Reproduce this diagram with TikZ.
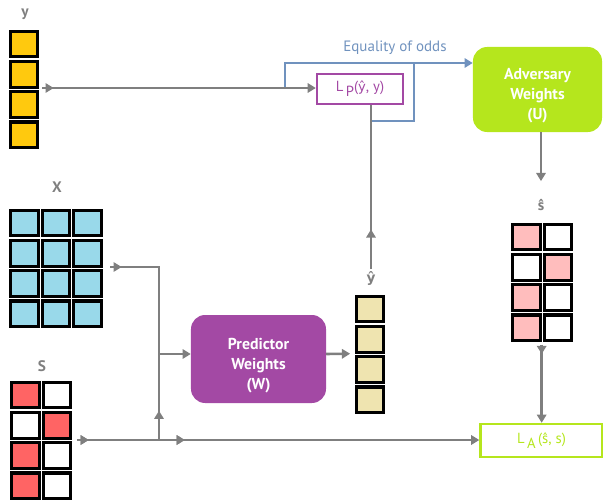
\documentclass[tikz,border=0pt]{standalone}
\usepackage{fontspec}
\setmainfont{PT Sans}
\newfontfamily\hatfont{DejaVu Sans}
\usetikzlibrary{arrows.meta,positioning,calc,decorations.markings}
\definecolor{ambre}{HTML}{FFC90E}
\definecolor{ciel}{HTML}{99D9EA}
\definecolor{corail}{HTML}{FF6464}
\definecolor{sable}{HTML}{EFE4B0}
\definecolor{rose}{HTML}{FFBDBD}
\definecolor{prune}{HTML}{A349A4}
\definecolor{citron}{HTML}{B5E61D}
\definecolor{acier}{HTML}{7092BE}
\definecolor{trait}{HTML}{7F7F7F}
\newcommand\yhat{{\hatfont\fontsize{0.9em}{1em}\selectfont ŷ}}

\tikzset{
  cell/.style={draw=black,line width=2.6pt,minimum width=23.3pt,minimum height=22pt,inner sep=0pt},
  wire/.style={trait,line width=2.2pt},
  conn/.style={wire,-{Triangle[length=7pt,width=8pt]}},
  tipat/.style={postaction={decorate},
    decoration={markings,mark=at position #1 with {\arrow{Triangle[length=7pt,width=8pt]}}}},
  lbl/.style={text=trait,font=\bfseries\fontsize{13}{13}\selectfont},
  weights/.style={rounded corners=12pt,inner sep=0pt},
  wtext/.style={text=white,align=center,inner sep=0pt,yshift=-5.5pt,
    font=\bfseries\fontsize{13.5}{17}\selectfont},
  lossbox/.style={draw=#1,line width=2pt,text=#1,inner sep=0pt,
    font=\fontsize{12.5}{12.5}\selectfont},
}

\begin{document}
\begin{tikzpicture}[x=0.03cm,y=-0.03cm]
  \useasboundingbox (0,0) rectangle (603,500);

  % target y
  \node[lbl] (ylab) at (25,14) {y};
  \foreach \i in {1,...,4}
    \node[cell,fill=ambre] (y\i) at (24,{44+30.3*(\i-1)}) {};

  % features X
  \node[lbl] (xlab) at (57,187) {X};
  \foreach \r in {1,...,4}
    \foreach \c in {1,...,3}
      \node[cell,fill=ciel] (x\r\c) at ({24.5+31.5*(\c-1)},{223+30.3*(\r-1)}) {};

  % sensitive S
  \node[lbl] (slab) at (42,366) {S};
  \foreach \r/\ca/\cb in {1/corail/white,2/white/corail,3/corail/white,4/corail/white}{
    \node[cell,fill=\ca] (s\r1) at (25.5,{395+30.3*(\r-1)}) {};
    \node[cell,fill=\cb] (s\r2) at (57,{395+30.3*(\r-1)}) {};
  }

  % prediction yhat
  \node[lbl] (yhlab) at (371,278) {\yhat};
  \foreach \i in {1,...,4}
    \node[cell,fill=sable] (yh\i) at (370,{309+30.3*(\i-1)}) {};

  % adversary output shat
  \node[lbl] (shlab) at (541,205) {ŝ};
  \foreach \r/\ca/\cb in {1/rose/white,2/white/rose,3/rose/white,4/rose/white}{
    \node[cell,fill=\ca] (sh\r1) at (526.5,{237+30.3*(\r-1)}) {};
    \node[cell,fill=\cb] (sh\r2) at (558,{237+30.3*(\r-1)}) {};
  }

  % weights and losses
  \node[weights,fill=prune,minimum width=4.05cm,minimum height=2.64cm,
    label={[wtext]center:Predictor\\Weights\\(W)}] (pred) at (258.5,359) {};
  \node[weights,fill=citron,minimum width=3.87cm,minimum height=2.55cm,
    label={[wtext]center:Adversary\\Weights\\(U)}] (adv) at (537.5,89.5) {};
  \node[lossbox=prune,minimum width=2.58cm,minimum height=0.9cm] (lp) at (360,89)
    {L\,\raisebox{-4pt}{P}(\yhat, y)};
  \node[lossbox=citron,minimum width=3.66cm,minimum height=0.99cm] (la) at (541.5,440.5)
    {L\,\raisebox{-4pt}{A}\,(ŝ, s)};

  \coordinate (yout) at (42,88);
  \coordinate (xout) at (110,267);
  \coordinate (sout) at (77,440);
  \coordinate (jx) at (159,267);
  \coordinate (jp) at (159,354);
  \coordinate (js) at (159,440);
  \coordinate (eqa) at (285,88);
  \coordinate (eqb) at (414,121);
  \coordinate (eqc) at (414,63);

  % equality of odds
  \draw[acier,line width=2pt,-{Triangle[length=7pt,width=8pt]}] (eqa) |- (adv.west |- eqc);
  \draw[acier,line width=2pt] (yhlab.north |- eqb) -- (eqb) -- (eqc);
  \node[text=acier,font=\fontsize{12.8}{12.8}\selectfont] (eqlab) at (395,48) {Equality of odds};

  \draw[conn,tipat=10pt] (yout) -- (yout -| lp.west);
  \draw[conn,tipat=10pt] (xout) -- (jx) -- (jp) -- (jp -| pred.west);
  \draw[wire,tipat=25pt] (js) -- (jp);
  \draw[conn,tipat=10pt,tipat=92pt] (sout) -- (sout -| la.west);
  \draw[conn] (pred.east |- jp) -- ([xshift=-4pt]yh2.south west);
  \draw[wire,tipat=34pt] ([yshift=-2pt]yhlab.north) -- (yhlab.north |- lp.south);
  \draw[conn] (adv.south -| shlab) -- ([yshift=12pt]shlab.north);
  \draw[conn,tipat=8pt] ([yshift=-2pt]sh41.south east) -- (sh41.south east |- la.north);
\end{tikzpicture}
\end{document}
